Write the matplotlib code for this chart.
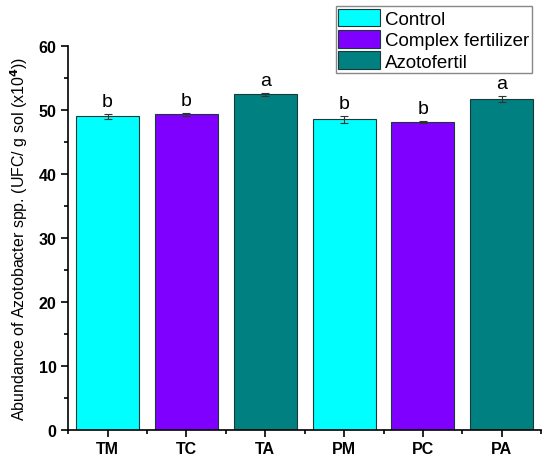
import numpy as np
import matplotlib
matplotlib.use('Agg')
import matplotlib.pyplot as plt
from matplotlib.patches import Patch
from matplotlib.ticker import MultipleLocator

# data
treatments = ['TM', 'TC', 'TA', 'PM', 'PC', 'PA']
abundance = [49.0, 49.3, 52.4, 48.5, 48.1, 51.7]
errors = [0.4, 0.25, 0.3, 0.5, 0.2, 0.5]
letters = ['b', 'b', 'a', 'b', 'b', 'a']
groups = ['Control', 'Complex fertilizer', 'Azotofertil']
group_colors = ['#00FFFF', '#8000FF', '#008080']

plt.rcParams['font.family'] = ['Liberation Sans', 'DejaVu Sans']

fig = plt.figure(figsize=(5.5, 4.64), dpi=100)
ax = fig.add_axes([0.124, 0.072, 0.86, 0.827])

x = np.arange(1, len(treatments) + 1)
cols = [group_colors[i % 3] for i in range(len(treatments))]
ax.bar(x, abundance, width=0.8, color=cols, edgecolor='#1a3a3a', linewidth=0.8,
       yerr=errors, error_kw=dict(ecolor='#333333', elinewidth=0.8, capsize=3, capthick=0.8))

for xi, v, e, l in zip(x, abundance, errors, letters):
    ax.text(xi, v + e + 0.6, l, ha='center', va='bottom', fontsize=14)

ax.set_xlim(0.5, 6.5)
ax.set_ylim(0, 60)
ax.set_xticks(x)
ax.set_xticklabels(treatments, fontsize=11.5, fontweight='bold')
ax.xaxis.set_minor_locator(MultipleLocator(0.5))
ax.yaxis.set_major_locator(MultipleLocator(10))
ax.yaxis.set_minor_locator(MultipleLocator(5))
for lab in ax.get_yticklabels():
    lab.set_fontweight('bold')
    lab.set_fontsize(11.5)
ax.tick_params(which='major', length=5, width=1.2, direction='out')
ax.tick_params(which='minor', length=3, width=1.2, direction='out')
ax.spines['top'].set_visible(False)
ax.spines['right'].set_visible(False)
ax.spines['left'].set_linewidth(1.2)
ax.spines['bottom'].set_linewidth(1.2)

ax.set_ylabel('Abundance of Azotobacter spp. (UFC/ g sol (x10$^{\\mathbf{4}}$))',
              fontsize=11.5, labelpad=6)

handles = [Patch(facecolor=c, edgecolor='#1a3a3a', linewidth=0.8) for c in group_colors]
fig.legend(handles, groups, loc='upper right', bbox_to_anchor=(0.968, 0.985),
           fontsize=13.5, frameon=True, fancybox=False, edgecolor='#888888',
           framealpha=1, handlelength=2.2, handleheight=1.05, handletextpad=0.3,
           labelspacing=0.12, borderpad=0.15, borderaxespad=0)

fig.savefig('out.png', dpi=100)
